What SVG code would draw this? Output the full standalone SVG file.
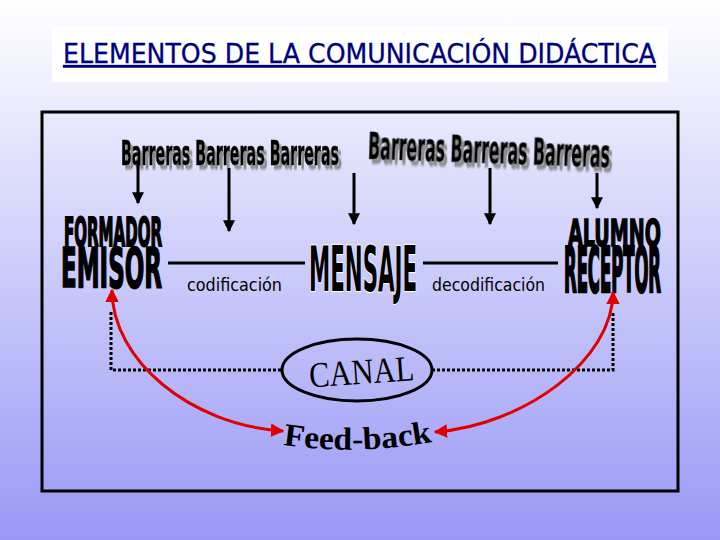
<svg xmlns="http://www.w3.org/2000/svg" width="720" height="540" viewBox="0 0 720 540">
<defs>
<linearGradient id="bg" x1="0" y1="0" x2="0" y2="1">
<stop offset="0" stop-color="#ffffff"/>
<stop offset="1" stop-color="#9898f6"/>
</linearGradient>
<filter id="shadow" x="-10%" y="-30%" width="120%" height="160%">
<feDropShadow dx="3" dy="2" stdDeviation="0.5" flood-color="#8c8c8c" flood-opacity="1"/>
</filter>
<marker id="ah" viewBox="0 0 10 10" refX="9" refY="5" markerWidth="4" markerHeight="4" orient="auto" markerUnits="strokeWidth">
<path d="M0,0 L10,5 L0,10 z" fill="#000"/>
</marker>
<marker id="rh" viewBox="0 0 10 10" refX="9" refY="5" markerWidth="4.5" markerHeight="4.5" orient="auto-start-reverse" markerUnits="strokeWidth">
<path d="M0,0 L10,5 L0,10 z" fill="#e00000"/>
</marker>
<path id="fbpath" d="M283 445 Q359 456 437 441"/>
</defs>
<style>
.heavy{font-family:"DejaVu Sans Condensed","DejaVu Sans","Liberation Sans",sans-serif;font-weight:bold;fill:#000;stroke:#000;stroke-width:0.8}
.barr{font-family:"DejaVu Sans Condensed","DejaVu Sans","Liberation Sans",sans-serif;font-weight:bold;font-size:16px;fill:#000;stroke:#000;stroke-width:0.3}
.lbl{font-family:"DejaVu Sans","Verdana",sans-serif;font-size:17px;fill:#000}
.conn{stroke:#000;stroke-width:3;fill:none}
.dot{stroke:#000;stroke-width:3;fill:none;stroke-dasharray:3 2}
.red{stroke:#e00000;stroke-width:3;fill:none}
</style>
<rect x="0" y="0" width="720" height="540" fill="url(#bg)"/>

<g id="title">
<rect x="52" y="26" width="616" height="56" fill="#ffffff"/>
<text x="63" y="63" font-family="DejaVu Sans Condensed, DejaVu Sans, sans-serif" font-size="27" fill="#00007f" stroke="#00007f" stroke-width="0.3" text-decoration="underline" textLength="593" lengthAdjust="spacingAndGlyphs">ELEMENTOS DE LA COMUNICACIÓN DIDÁCTICA</text>
</g>

<g id="frame">
<rect x="42" y="112" width="636" height="379" fill="none" stroke="#000" stroke-width="3"/>
</g>

<g id="barreras-left">
<text class="barr" transform="translate(121 165) scale(1 2.15)" x="0" y="0" textLength="218" lengthAdjust="spacingAndGlyphs" filter="url(#shadow)">Barreras Barreras Barreras</text>
</g>
<g id="barreras-right">
<g transform="rotate(2 489 155)">
<text class="barr" transform="translate(368 163) scale(1 2.3)" x="0" y="0" textLength="242" lengthAdjust="spacingAndGlyphs" filter="url(#shadow)">Barreras Barreras Barreras</text>
</g>
</g>

<g id="emisor">
<text class="heavy" transform="translate(64 246) scale(1 2.38)" x="0" y="0" font-size="16.7" textLength="98" lengthAdjust="spacingAndGlyphs">FORMADOR</text>
<text class="heavy" transform="translate(61 287) scale(1 2.15)" x="0" y="0" font-size="25.6" textLength="101" lengthAdjust="spacingAndGlyphs">EMISOR</text>
</g>

<g id="mensaje">
<text transform="translate(309 291) scale(1 2.6)" x="0" y="0" font-family="DejaVu Sans Condensed, DejaVu Sans, sans-serif" font-weight="bold" font-size="23.7" fill="#000" stroke="#fff" stroke-width="0.8" paint-order="stroke" textLength="108" lengthAdjust="spacingAndGlyphs">MENSAJE</text>
</g>

<g id="receptor">
<text class="heavy" transform="translate(568 246) scale(1 1.76)" x="0" y="0" font-size="21" textLength="93" lengthAdjust="spacingAndGlyphs">ALUMNO</text>
<text class="heavy" transform="translate(564 292) scale(1 3.4)" x="0" y="0" font-size="18.3" textLength="97" lengthAdjust="spacingAndGlyphs">RECEPTOR</text>
</g>

<g id="codificacion">
<text class="lbl" x="187" y="291" textLength="95" lengthAdjust="spacingAndGlyphs">codificación</text>
</g>
<g id="decodificacion">
<text class="lbl" x="432" y="291" textLength="113" lengthAdjust="spacingAndGlyphs">decodificación</text>
</g>

<g id="canal">
<ellipse cx="357" cy="370" rx="75" ry="31" fill="none" stroke="#000" stroke-width="3"/>
<text x="309" y="384" font-family="Liberation Serif, serif" font-size="36" fill="#000" textLength="105" lengthAdjust="spacingAndGlyphs" transform="rotate(-4 360 372)">CANAL</text>
</g>

<g id="feedback">
<text font-family="Liberation Serif, serif" font-weight="bold" font-size="32" fill="#000"><textPath href="#fbpath" textLength="150" lengthAdjust="spacingAndGlyphs">Feed-back</textPath></text>
</g>

<g id="connectors">
<line class="conn" x1="138" y1="162" x2="138" y2="203" marker-end="url(#ah)"/>
<line class="conn" x1="229" y1="168" x2="229" y2="231" marker-end="url(#ah)"/>
<line class="conn" x1="354" y1="173" x2="354" y2="224" marker-end="url(#ah)"/>
<line class="conn" x1="490" y1="168" x2="490" y2="224" marker-end="url(#ah)"/>
<line class="conn" x1="597" y1="173" x2="597" y2="208" marker-end="url(#ah)"/>
<line class="conn" x1="168" y1="263" x2="305" y2="263"/>
<line class="conn" x1="423" y1="263" x2="558" y2="263"/>
<polyline class="dot" points="111,312 111,370 282,370"/>
<polyline class="dot" points="432,370 613,370 613,312"/>
<path class="red" d="M283 431 C190 425 112 360 112 290" marker-start="url(#rh)" marker-end="url(#rh)"/>
<path class="red" d="M435 432 C525 425 613 360 613 292" marker-start="url(#rh)" marker-end="url(#rh)"/>
</g>
</svg>
